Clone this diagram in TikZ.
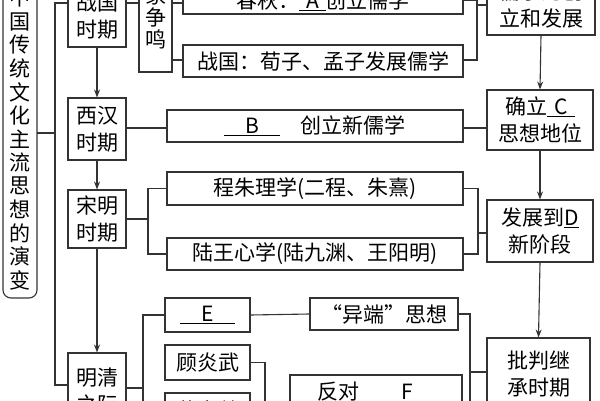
\documentclass[tikz,border=0pt]{standalone}
\usepackage{fontspec}
\setmainfont{Noto Sans CJK SC}
\usetikzlibrary{arrows.meta}
\begin{document}
\begin{tikzpicture}[x=1pt,y=-1pt,
  bx/.style={draw=black!80,line width=1.1pt,inner sep=0pt,font=\fontsize{21}{27}\selectfont,align=center},
  ln/.style={draw=black!80,line width=1.1pt},
  ar/.style={ln,-{Stealth[length=8pt,width=6pt]}},
  lbl/.style={font=\fontsize{21}{27}\selectfont,inner sep=0pt,align=center}]
\useasboundingbox (0,0) rectangle (600,400);
\clip (0,0) rectangle (600,400);
\fill[white] (0,0) rectangle (600,400);
% left title box
\draw[ln,rounded corners=8pt] (3,-30) rectangle (37,298);
\foreach \c [count=\i from 0] in {中,国,传,统,文,化,主,流,思,想,的,演,变}
  \node[lbl] (t\i) at (20,{-2+\i*23.5}) {\c};
% period boxes
\node[bx,minimum width=58pt,minimum height=62pt] (zg) at (97,16) {战国\\时期};
\node[bx,minimum width=33pt,minimum height=92pt] (bj) at (155.5,26) {};
\node[lbl,font=\fontsize{21}{22}\selectfont] (bjt) at (155.5,7) {百\\家\\争\\鸣};
\node[bx,minimum width=280pt,minimum height=32pt] (cq) at (323,-2) {};
\node[lbl] (cqt) at (323,1) {春秋：\underline{\,\,A\,\,}创立儒学};
\node[bx,minimum width=280pt,minimum height=32pt] (zg2) at (323,61) {战国：荀子、孟子发展儒学};
\node[bx,minimum width=108pt,minimum height=60pt] (rx) at (541,5) {儒学的创\\立和发展};
\node[bx,minimum width=106pt,minimum height=60pt] (cc) at (540,120) {确立\underline{\,\,C\,\,}\\思想地位};
\node[bx,minimum width=58pt,minimum height=62pt] (xh) at (97,129) {西汉\\时期};
\node[bx,minimum width=296pt,minimum height=32pt] (bb) at (315,126) {\underline{\quad B\quad}\quad 创立新儒学};
\node[bx,minimum width=58pt,minimum height=58pt] (sm) at (97,219) {宋明\\时期};
\node[bx,minimum width=296pt,minimum height=33pt] (cz) at (315,188.5) {程朱理学(二程、朱熹)};
\node[bx,minimum width=296pt,minimum height=32pt] (lw) at (315,254) {陆王心学(陆九渊、王阳明)};
\node[bx,minimum width=106pt,minimum height=62pt] (dd) at (540,231) {发展到\underline{D}\\新阶段};
\node[bx,minimum width=58pt,minimum height=66pt] (mq) at (97,386) {};
\node[lbl] (mqt) at (97,391.5) {明清\\之际};
\node[bx,minimum width=85pt,minimum height=34pt] (ee) at (207.5,315) {\underline{\quad E\quad}};
\node[bx,minimum width=148pt,minimum height=32pt] (yd) at (384,314) {“异端”思想};
\node[bx,minimum width=85pt,minimum height=35pt] (gu) at (207.5,362.5) {顾炎武};
\node[bx,minimum width=85pt,minimum height=35pt] (hz) at (207.5,410.5) {黄宗羲};
\node[bx,minimum width=172pt,minimum height=45pt] (ff) at (376,397.5) {};
\node[lbl] (fft) at (376,392) {反对\quad\underline{\quad F\quad}};
\node[bx,minimum width=103pt,minimum height=72pt] (pj) at (538.5,374) {批判继\\承时期};
% trunk
\draw[ln] (zg.west|-0,3) -- (55,3) -- (55,385) -- (mq.west|-0,385);
\draw[ln] (55,133) -- (37,133);
\draw[ln] (zg.east|-0,3) -- (bj.west|-0,3);
\draw[ln] (bj.east|-0,3) -- (cq.west|-0,3);
\draw[ln] (bj.east|-0,60) -- (zg2.west|-0,60);
\draw[ln] (cq.east|-0,0) -- (477,0) -- (477,60) -- (zg2.east|-0,60);
\draw[ln] (477,5) -- (rx.west|-0,5);
\draw[ar] (rx.south) -- (cc.north);
\draw[ar] (cc.south) -- (dd.north);
\draw[ar] (dd.south) -- (pj.north);
\draw[ar] (zg.south) -- (xh.north);
\draw[ar] (xh.south) -- (sm.north);
\draw[ar] (sm.south) -- (mq.north);
\draw[ln] (xh.east|-0,128) -- (bb.west|-0,128);
\draw[ln] (bb.east|-0,128) -- (cc.west|-0,128);
\draw[ln] (sm.east) -- (148,219);
\draw[ln] (cz.west) -- (148,188.5) -- (148,254) -- (lw.west);
\draw[ln] (cz.east) -- (478,188.5) -- (478,254) -- (lw.east);
\draw[ln] (478,233) -- (dd.west|-0,233);
\draw[ln] (mq.east|-0,388) -- (143,388);
\draw[ln] (ee.west) -- (143,315) -- (143,430);
\draw[ln] (ee.east) -- (yd.west);
\draw[ln] (gu.east) -- (265,362.5) -- (265,430);
\draw[ln] (yd.east) -- (470,314) -- (470,430);
\draw[ln] (470,372) -- (pj.west|-0,372);
\end{tikzpicture}
\end{document}
